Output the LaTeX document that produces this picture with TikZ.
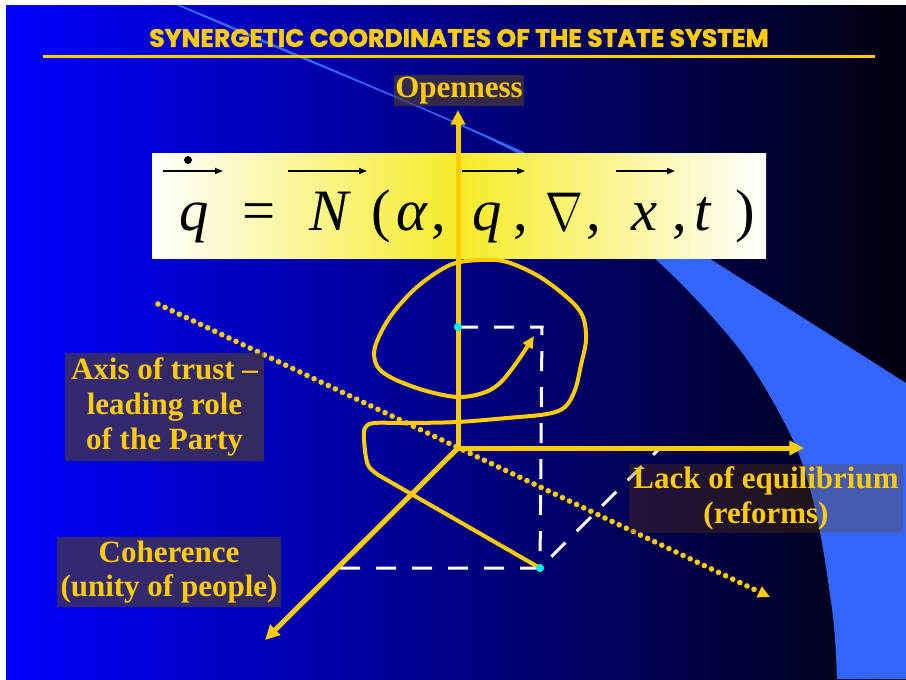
\documentclass[tikz,border=0pt]{standalone}
\usepackage{fontspec}
\usepackage{graphicx}
\setmainfont{Liberation Serif}
\newfontfamily\titlefont{Poppins}[BoldFeatures={FakeBold=1.6}]
\usetikzlibrary{arrows.meta}
\definecolor{gold}{RGB}{255,204,0}
\definecolor{bandblue}{RGB}{51,102,255}
\definecolor{boxfill}{RGB}{85,69,35}
\definecolor{lackfill}{RGB}{112,66,0}
\definecolor{cyandot}{RGB}{0,238,238}
\definecolor{formyellow}{RGB}{246,236,40}
\definecolor{bgleft}{RGB}{0,0,255}
\definecolor{bgright}{RGB}{0,0,12}
\begin{document}
\begin{tikzpicture}[x=0.75pt,y=-0.75pt,
  titletext/.style={text=gold, inner sep=0pt, font=\titlefont\bfseries\fontsize{18.8}{21}\selectfont},
  labelbox/.style={fill=boxfill, fill opacity=0.6, text opacity=1, text=gold, inner sep=0pt,
    align=center, font=\fontsize{23.25}{26}\selectfont\bfseries},
  glyph/.style={anchor=base, inner sep=0pt, text=black, font=\fontsize{44}{44}\selectfont\itshape},
  uglyph/.style={anchor=base, inner sep=0pt, text=black, font=\fontsize{44}{44}\selectfont},
  farrow/.style={draw=black, line width=1.1pt, -{Triangle[length=6pt,width=4.5pt]}},
  axisline/.style={draw=gold, line width=3.75pt, -{Triangle[length=11pt,width=10.5pt]}},
  traj/.style={draw=gold, line width=3pt, line cap=round, line join=round, -{Triangle[length=9pt,width=8pt]}},
  wdash/.style={draw=white, line width=2.25pt, dash pattern=on 15pt off 12pt},
  dotline/.style={draw=gold, line width=4.2pt, line cap=round, dash pattern=on 0pt off 5.9pt, -{Triangle[length=9pt,width=8.5pt]}},
  cdot/.style={circle, fill=cyandot, inner sep=0pt, minimum size=6pt}
]
\useasboundingbox (0,0) rectangle (906,679);
\fill[white] (0,0) rectangle (906,679);
\shade[left color=bgleft, right color=bgright] (6,5) rectangle (906,679);
% light blue crescent
\fill[bandblue] plot[smooth] coordinates {(176,5) (250,37) (517,153) (653,257) (740,350) (793,440) (817,517) (833,617) (837,679)}
  -- (906,679) -- (906,383) -- plot[smooth] coordinates {(707,257) (600,196) (517,149) (250,34) (180,5)} -- cycle;
% title
\node[titletext] (title) at (459,38) {SYNERGETIC COORDINATES OF THE STATE SYSTEM};
\draw[gold, line width=2.2pt] (43,56.5) -- (875,56.5);
% formula box
\shade[left color=white, right color=white, middle color=formyellow] (152,153) rectangle (766,258);
\node[glyph] (q1) at (194.5,230) {q};
\node[uglyph] (eq) at (259.5,230) {=};
\node[glyph] (N) at (329,230) {N};
\node[uglyph] (lp) at (381.5,230) {(};
\node[glyph] (al) at (412,230) {α};
\node[uglyph] (c1) at (439,230) {,};
\node[glyph] (q2) at (487,230) {q};
\node[uglyph] (c2) at (521,230) {,};
\node[anchor=base, inner sep=0pt, text=black] (nab) at (564,230) {\scalebox{3.4}[4.1]{$\nabla$}};
\node[uglyph] (c3) at (594,230) {,};
\node[glyph] (xx) at (645,230) {x};
\node[uglyph] (c4) at (680,230) {,};
\node[glyph] (tt) at (703,230) {t};
\node[uglyph] (rp) at (745,230) {)};
\fill[black] (188,160) circle (3pt);
\draw[farrow] (163,171) -- (223,171);
\draw[farrow] (288,171) -- (367,171);
\draw[farrow] (462,171) -- (525,171);
\draw[farrow] (616,171) -- (675,171);
% key points
\coordinate (O) at (458,448);
\coordinate (ytip) at (458,110);
\coordinate (xtip) at (804,448);
\coordinate (ztip) at (265,640);
\coordinate (c1r) at (542,327);
\coordinate (bl) at (340,568);
\coordinate (dr) at (658,450);
\coordinate (d1) at (158,304);
\coordinate (d2) at (770,597);
\node[cdot] (p2) at (458,327) {};
\node[cdot] (p1) at (540,568) {};
% dashed construction
\draw[wdash] (p2.center) -- (c1r) -- (p1.center);
\draw[wdash] (bl) -- (p1.center) -- (dr);
% trajectory
\draw[traj] (p1.center) -- plot[smooth, tension=0.55] coordinates {(380,476) (368,465) (364,440) (365,428) (374,423) (407,423) (457,422) (507,418) (547,414) (565,407) (575,390) (581,365) (586,340) (583,317) (570,300) (540,277) (507,262) (480,260) (450,265) (417,287) (390,317) (375,347) (377,366) (392,378) (423,390) (457,397) (483,393) (500,383) (517,362) (534,336)};
% dotted axis of trust
\draw[dotline] (d1) -- (d2);
% axes
\draw[axisline] (O) -- (ytip);
\draw[axisline] (O) -- (xtip);
\draw[axisline] (O) -- (ztip);
\node[cdot] at (p2) {};
\node[cdot] at (p1) {};
% labels
\node[labelbox, minimum width=97.5pt, minimum height=23.25pt] (open) at (459,90.5) {Openness};
\node[labelbox, minimum width=149.25pt, minimum height=81pt] (trust) at (164.5,407) {Axis of trust –\\leading role\\of the Party};
\node[labelbox, minimum width=168pt, minimum height=52.5pt] (coh) at (169,572) {Coherence\\(unity of people)};
\node[labelbox, fill=lackfill, fill opacity=0.3, minimum width=205.5pt, minimum height=51.75pt] (lack) at (766,498.5) {Lack of equilibrium\\(reforms)};
\end{tikzpicture}
\end{document}
